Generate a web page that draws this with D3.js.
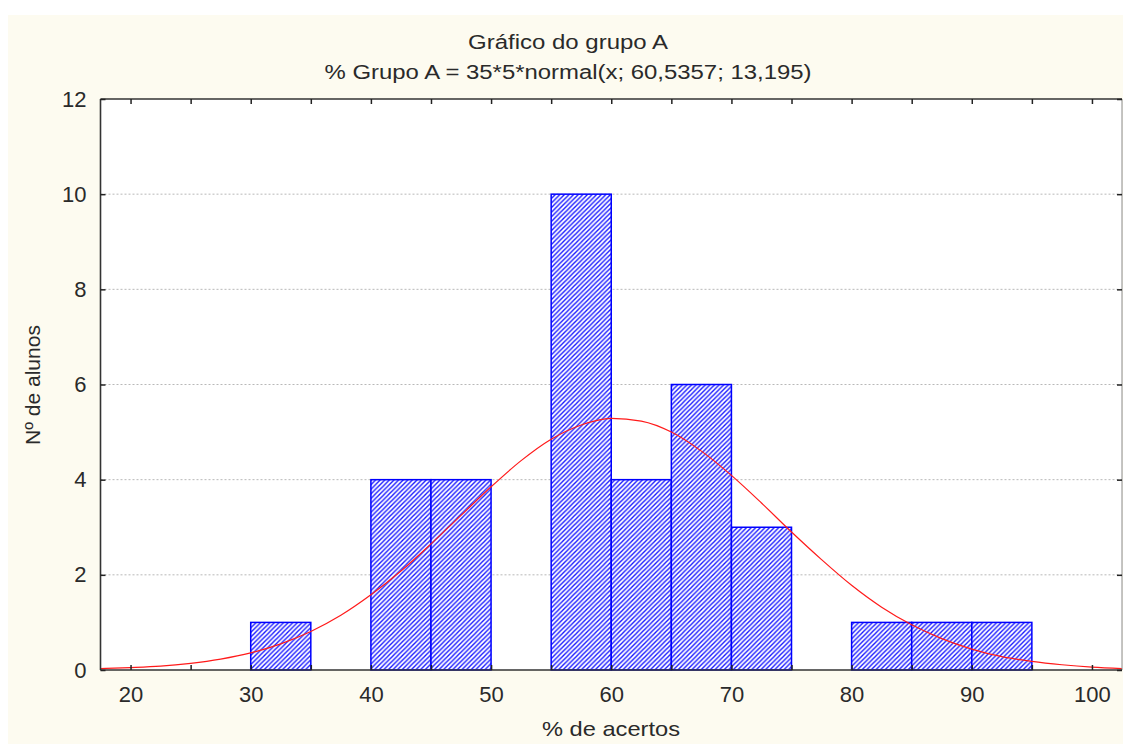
<!DOCTYPE html>
<html>
<head>
<meta charset="utf-8">
<script src="https://cdn.jsdelivr.net/npm/d3@7"></script>
<style>
  html, body { margin: 0; padding: 0; background: #ffffff; }
  svg { display: block; }
  text { font-family: "Liberation Sans", Arial, sans-serif; fill: #2a2a2a; }
</style>
</head>
<body>
<script>
// ---- data ----
const binStarts = [30, 35, 40, 45, 50, 55, 60, 65, 70, 75, 80, 85, 90];
const binWidth = 5;
const counts = [1, 0, 4, 4, 0, 10, 4, 6, 3, 0, 1, 1, 1];

const curveX = [17.5, 20, 22.5, 25, 27.5, 30, 32.5, 35, 37.5, 40, 42.5, 45, 47.5, 50, 52.5, 55, 57.5, 60,
                62.5, 65, 67.5, 70, 72.5, 75, 77.5, 80, 82.5, 85, 87.5, 90, 92.5, 95, 97.5, 100, 102.5];
const curveY = [0.03, 0.05, 0.08, 0.14, 0.23, 0.36, 0.55, 0.81, 1.15, 1.58, 2.08, 2.65, 3.25, 3.85, 4.40, 4.85, 5.15, 5.29,
                5.23, 5.00, 4.60, 4.09, 3.51, 2.90, 2.32, 1.78, 1.32, 0.95, 0.66, 0.44, 0.28, 0.18, 0.11, 0.06, 0.03];

const xTicks = [20, 30, 40, 50, 60, 70, 80, 90, 100];
const xMinorTicks = [20, 25, 30, 35, 40, 45, 50, 55, 60, 65, 70, 75, 80, 85, 90, 95, 100];
const yTicks = [0, 2, 4, 6, 8, 10, 12];

const title1 = "Gráfico do grupo A";
const title2 = "% Grupo A = 35*5*normal(x; 60,5357; 13,195)";
const xLabel = "% de acertos";
const yLabel = "Nº de alunos";

// ---- layout ----
const W = 1123, H = 744;
const L = 100.5, R = 1122, T = 99, B = 670;

const svg = d3.select("body").append("svg").attr("width", W).attr("height", H);

const defs = svg.append("defs");
const pat = defs.append("pattern")
  .attr("id", "hatch").attr("patternUnits", "userSpaceOnUse")
  .attr("width", 4.6).attr("height", 4.6);
pat.append("rect").attr("width", 4.6).attr("height", 4.6).attr("fill", "#ffffff");
pat.append("path")
  .attr("d", "M-1.15,1.15 L1.15,-1.15 M0,4.6 L4.6,0 M3.45,5.75 L5.75,3.45")
  .attr("stroke", "#1a1aff").attr("stroke-width", 1.4);

// cream background
svg.append("rect").attr("x", 8).attr("y", 15).attr("width", W - 8).attr("height", H - 15).attr("fill", "#fdfbf0");

const x = d3.scaleLinear().domain([17.5, 102.5]).range([L, R]);
const y = d3.scaleLinear().domain([0, 12]).range([B, T]);

// plot area
svg.append("rect").attr("x", L).attr("y", T).attr("width", R - L).attr("height", B - T).attr("fill", "#ffffff");

// grid
svg.append("g").selectAll("line").data(yTicks.filter(d => d > 0 && d < 12)).join("line")
  .attr("x1", L).attr("x2", R).attr("y1", d => y(d)).attr("y2", d => y(d))
  .attr("stroke", "#b8b8b8").attr("stroke-width", 1).attr("stroke-dasharray", "2,2");

// bars
const bars = binStarts.map((s, i) => ({ s, c: counts[i] })).filter(d => d.c > 0);
svg.append("g").selectAll("rect").data(bars).join("rect")
  .attr("x", d => x(d.s)).attr("width", d => x(d.s + binWidth) - x(d.s))
  .attr("y", d => y(d.c)).attr("height", d => y(0) - y(d.c))
  .attr("fill", "url(#hatch)").attr("stroke", "#0000ff").attr("stroke-width", 1.5);

// normal curve
const line = d3.line().x((d, i) => x(curveX[i])).y(d => y(d)).curve(d3.curveMonotoneX);
svg.append("path").datum(curveY).attr("d", line)
  .attr("fill", "none").attr("stroke", "#ff1a1a").attr("stroke-width", 1.2);

// frame
svg.append("line").attr("x1", R).attr("x2", R).attr("y1", T).attr("y2", B).attr("stroke", "#8a8a8a").attr("stroke-width", 1);
svg.append("line").attr("x1", L).attr("x2", R).attr("y1", T).attr("y2", T).attr("stroke", "#333").attr("stroke-width", 1.6);
svg.append("line").attr("x1", L).attr("x2", L).attr("y1", T).attr("y2", B).attr("stroke", "#333").attr("stroke-width", 1.6);
svg.append("line").attr("x1", L).attr("x2", R).attr("y1", B).attr("y2", B).attr("stroke", "#333").attr("stroke-width", 1.6);

// axes via d3 axis (inward ticks)
const xAxisB = svg.append("g").attr("transform", `translate(0,${B})`)
  .call(d3.axisTop(x).tickValues(xMinorTicks).tickSize(5).tickFormat(""));
const xAxisT = svg.append("g").attr("transform", `translate(0,${T})`)
  .call(d3.axisBottom(x).tickValues(xMinorTicks).tickSize(5).tickFormat(""));
const xLabels = svg.append("g").attr("transform", `translate(0,${B})`)
  .call(d3.axisBottom(x).tickValues(xTicks).tickSize(0).tickPadding(16).tickFormat(d3.format("d")));
const yAxisL = svg.append("g").attr("transform", `translate(${L},0)`)
  .call(d3.axisRight(y).tickValues(yTicks).tickSize(5).tickFormat(""));
const yAxisR = svg.append("g").attr("transform", `translate(${R},0)`)
  .call(d3.axisLeft(y).tickValues(yTicks).tickSize(5).tickFormat(""));
const yLabels = svg.append("g").attr("transform", `translate(${L},0)`)
  .call(d3.axisLeft(y).tickValues(yTicks).tickSize(0).tickPadding(14).tickFormat(d3.format("d")));

[xAxisB, xAxisT, xLabels, yAxisL, yAxisR, yLabels].forEach(g => {
  g.select(".domain").remove();
  g.selectAll(".tick line").attr("stroke", "#222").attr("stroke-width", 1.5);
});
[xLabels, yLabels].forEach(g => {
  g.selectAll("text").attr("font-size", 22).attr("fill", "#2a2a2a")
    .attr("font-family", "'Liberation Sans', Arial, sans-serif");
});

// titles
svg.append("text").attr("x", 568).attr("y", 49).attr("text-anchor", "middle").attr("font-size", 20)
  .attr("textLength", 200).attr("lengthAdjust", "spacingAndGlyphs").text(title1);
svg.append("text").attr("x", 568).attr("y", 79).attr("text-anchor", "middle").attr("font-size", 20)
  .attr("textLength", 487).attr("lengthAdjust", "spacingAndGlyphs").text(title2);
svg.append("text").attr("x", 611).attr("y", 736).attr("text-anchor", "middle").attr("font-size", 21)
  .attr("textLength", 138).attr("lengthAdjust", "spacingAndGlyphs").text(xLabel);
svg.append("text").attr("transform", "translate(40,385) rotate(-90)").attr("text-anchor", "middle").attr("font-size", 21)
  .attr("textLength", 120).attr("lengthAdjust", "spacingAndGlyphs").text(yLabel);
</script>
</body>
</html>
